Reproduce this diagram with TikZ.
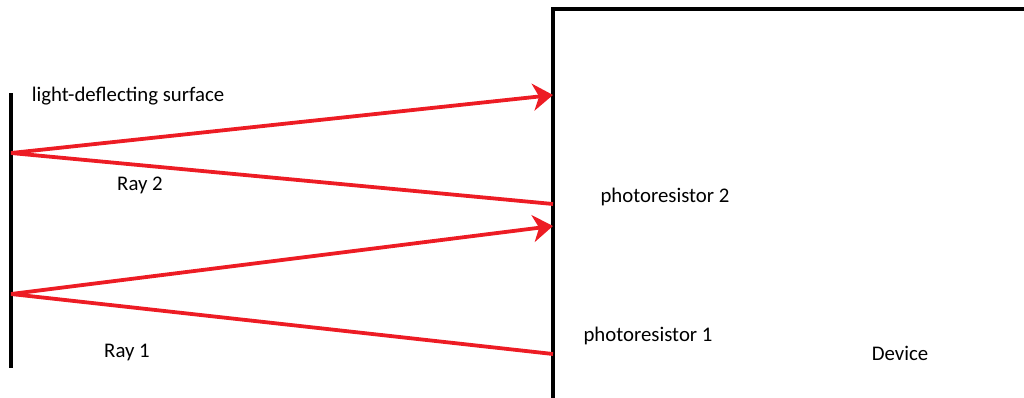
\documentclass[tikz,border=0pt]{standalone}
\usepackage{fontspec}
\setmainfont{Carlito}
\usetikzlibrary{arrows.meta}
\definecolor{rayred}{HTML}{ED1C24}
\tikzset{
  ray/.style={draw=rayred,line width=3.8pt},
  rayarrow/.style={ray,-{Stealth[length=20pt,width=27pt,inset=6pt]}},
  blackline/.style={draw=black,line width=4pt},
  lbl/.style={font=\fontsize{20.8}{24}\selectfont,inner sep=0pt,anchor=center}
}
\begin{document}
\begin{tikzpicture}[x=1pt,y=-1pt]
\useasboundingbox (0,0) rectangle (1024,397);
% surface
\coordinate (sTop) at (11,93);
\coordinate (sBot) at (11,368);
\draw[blackline] (sTop) -- (sBot);
% device box
\coordinate (bBL) at (553,400);
\coordinate (bTL) at (553,9);
\coordinate (bTR) at (1030,9);
\draw[blackline] (bBL) -- (bTL) -- (bTR);
% ray points
\coordinate (r2o) at (11,153);
\coordinate (r2a) at (553,95);
\coordinate (r2b) at (553,204);
\coordinate (r1o) at (11,294);
\coordinate (r1a) at (553,226);
\coordinate (r1b) at (553,354);
\draw[rayarrow] (r2o) -- (r2a);
\draw[ray] (r2o) -- (r2b);
\draw[rayarrow] (r1o) -- (r1a);
\draw[ray] (r1o) -- (r1b);
% labels
\node[lbl] (surf) at (128,96) {light-deflecting surface};
\node[lbl] (ray2) at (140,185) {Ray 2};
\node[lbl] (ray1) at (127,352) {Ray 1};
\node[lbl] (pr2) at (665,197) {photoresistor 2};
\node[lbl] (pr1) at (648,336) {photoresistor 1};
\node[lbl] (dev) at (900,353) {Device};
\end{tikzpicture}
\end{document}
